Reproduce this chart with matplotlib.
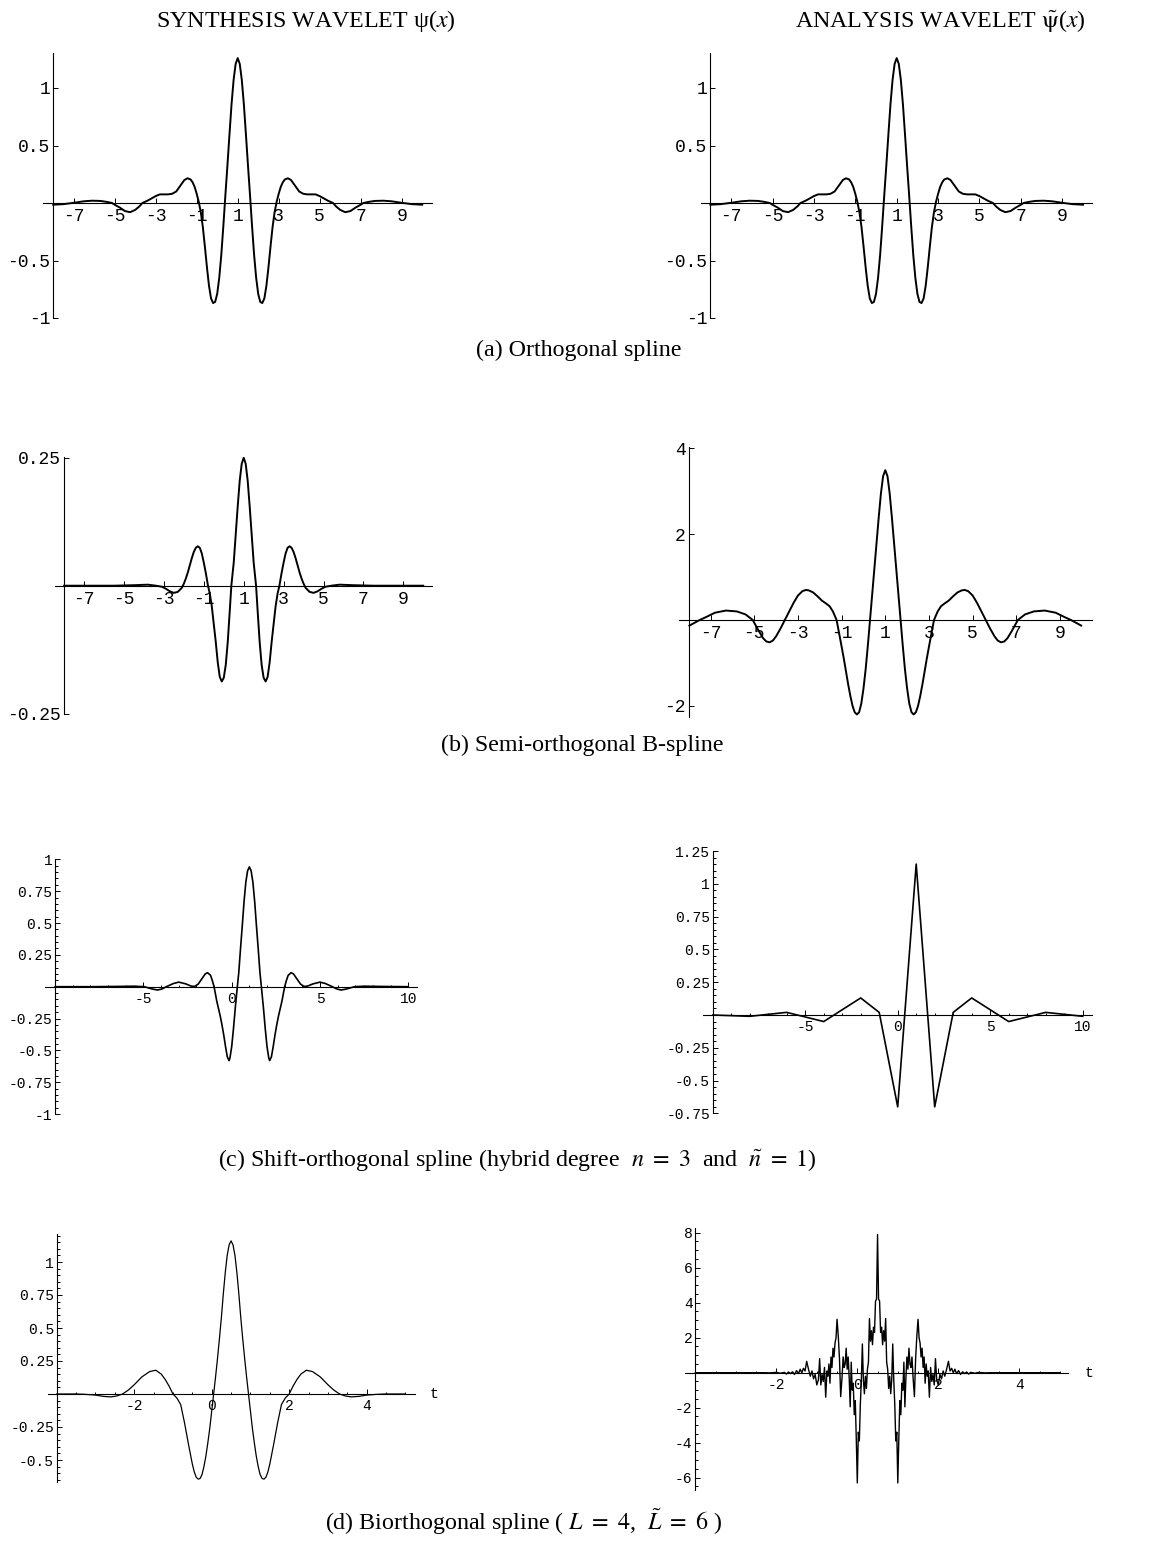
import numpy as np
import matplotlib
matplotlib.use("Agg")
import matplotlib.pyplot as plt

plt.rcParams['mathtext.fontset'] = 'stix'
SERIF = ['Liberation Serif', 'DejaVu Serif']
MONO = ['Liberation Mono', 'DejaVu Sans Mono']

W, H = 1156, 1550

# ---------------------------------------------------------------------------
# values; every wavelet is symmetric, so only one half
# is listed: offset from the centre of symmetry -> value
# ---------------------------------------------------------------------------

# (a) orthogonal spline (synthesis == analysis), centre x = 1
orth_d = [0, 0.1, 0.2, 0.3, 0.4, 0.5, 0.6, 0.7, 0.8, 0.9, 1.0, 1.1, 1.2, 1.3,
          1.4, 1.5, 1.6, 1.7, 1.8, 1.9, 2.0, 2.1, 2.2, 2.3, 2.45, 2.6, 2.8,
          3.0, 3.2, 3.4, 3.6, 3.8, 4.0, 4.2, 4.4, 4.65, 4.8, 5.0, 5.25, 5.5,
          5.75, 6.0, 6.13, 6.4, 6.7, 7.1, 7.5, 7.8, 8.07, 8.5, 9.0]
orth_v = [1.26, 1.21, 1.07, 0.86, 0.60, 0.33, 0.07, -0.20, -0.45, -0.65,
          -0.79, -0.86, -0.87, -0.83, -0.72, -0.56, -0.38, -0.21, -0.08, 0.01,
          0.08, 0.14, 0.18, 0.205, 0.215, 0.20, 0.15, 0.10, 0.08, 0.075,
          0.075, 0.075, 0.06, 0.04, 0.02, 0.0, -0.03, -0.06, -0.08, -0.07,
          -0.04, -0.015, 0.0, 0.01, 0.018, 0.02, 0.015, 0.007, 0.0, -0.01,
          -0.015]

# (b) semi-orthogonal B-spline, centre x = 1
bsyn_d = [0, 0.1, 0.2, 0.3, 0.4, 0.5, 0.62, 0.7, 0.8, 0.9, 1.0, 1.1, 1.2,
          1.3, 1.4, 1.5, 1.6, 1.7, 1.79, 1.9, 2.0, 2.1, 2.2, 2.3, 2.4, 2.5,
          2.6, 2.7, 2.8, 2.9, 3.0, 3.1, 3.3, 3.5, 3.7, 3.9, 4.1, 4.4, 4.8,
          5.5, 6.5, 9.0]
bsyn_v = [0.25, 0.238, 0.205, 0.155, 0.10, 0.045, 0.0, -0.05, -0.11, -0.155,
          -0.18, -0.187, -0.178, -0.15, -0.11, -0.075, -0.04, -0.015, 0.0,
          0.025, 0.045, 0.063, 0.074, 0.077, 0.074, 0.066, 0.054, 0.04,
          0.026, 0.014, 0.004, -0.004, -0.012, -0.014, -0.011, -0.006,
          -0.002, 0.0, 0.002, 0.001, 0.0, 0.0]

bana_d = [0, 0.1, 0.2, 0.3, 0.4, 0.5, 0.6, 0.7, 0.8, 0.9, 1.0, 1.1, 1.2,
          1.3, 1.4, 1.5, 1.6, 1.7, 1.8, 1.9, 2.0, 2.1, 2.23, 2.4, 2.55, 2.7,
          2.9, 3.1, 3.3, 3.5, 3.64, 3.8, 4.0, 4.2, 4.4, 4.6, 4.8, 5.0, 5.15,
          5.3, 5.45, 5.6, 5.8, 6.07, 6.4, 6.8, 7.3, 7.8, 8.2, 8.5, 8.97]
bana_v = [3.49, 3.35, 2.95, 2.4, 1.8, 1.2, 0.6, 0.0, -0.6, -1.15, -1.6,
          -1.95, -2.15, -2.2, -2.15, -2.0, -1.77, -1.5, -1.2, -0.9, -0.62,
          -0.35, 0.0, 0.2, 0.32, 0.38, 0.45, 0.55, 0.64, 0.69, 0.70, 0.67,
          0.57, 0.40, 0.20, 0.0, -0.2, -0.38, -0.48, -0.52, -0.5, -0.42,
          -0.25, 0.0, 0.13, 0.20, 0.22, 0.17, 0.07, 0.0, -0.13]

# (c) shift-orthogonal spline, centre x = 1; analysis wavelet is piecewise linear
shs_d = [0, 0.1, 0.2, 0.3, 0.4, 0.5, 0.6, 0.68, 0.8, 0.9, 1.0, 1.1, 1.15,
         1.25, 1.35, 1.45, 1.55, 1.65, 1.75, 1.85, 1.93, 2.0, 2.1, 2.2, 2.37,
         2.5, 2.7, 2.9, 3.1, 3.3, 3.6, 4.0, 4.3, 4.7, 4.95, 5.2, 5.5, 5.95,
         6.5, 7.5, 9.0, 11.0]
shs_v = [0.94, 0.91, 0.82, 0.67, 0.48, 0.30, 0.11, 0.0, -0.17, -0.33, -0.47,
         -0.56, -0.58, -0.55, -0.47, -0.38, -0.30, -0.23, -0.17, -0.11,
         -0.05, 0.0, 0.05, 0.09, 0.11, 0.10, 0.06, 0.02, 0.002, 0.005, 0.022,
         0.036, 0.025, 0.0, -0.018, -0.026, -0.018, 0.0, 0.004, 0.002, 0.0,
         0.0]

sha_x = list(range(-10, 11))
sha_v = [0.0, -0.005, -0.01, 0.005, 0.02, -0.015, -0.05, 0.04, 0.13, 0.02,
         -0.70, 1.15, -0.70, 0.02, 0.13, 0.04, -0.05, -0.015, 0.02, 0.005,
         -0.01]

# (d) biorthogonal spline, centre t = 0.5
bis_d = [0, 0.05, 0.1, 0.15, 0.2, 0.25, 0.3, 0.35, 0.4, 0.45, 0.5, 0.55,
         0.6, 0.65, 0.7, 0.75, 0.8, 0.85, 0.9, 0.95, 1.0, 1.1, 1.2, 1.3, 1.4,
         1.5, 1.6, 1.7, 1.8, 1.94, 2.1, 2.3, 2.5, 2.65, 2.8, 2.95, 3.1, 3.3,
         3.5, 3.8, 4.0, 4.5]
bis_v = [1.16, 1.13, 1.05, 0.92, 0.76, 0.58, 0.42, 0.27, 0.13, 0.0, -0.13,
         -0.26, -0.37, -0.47, -0.55, -0.61, -0.64, -0.645, -0.63, -0.59,
         -0.53, -0.38, -0.22, -0.08, -0.03, 0.0, 0.06, 0.11, 0.15, 0.18,
         0.17, 0.13, 0.07, 0.03, 0.0, -0.015, -0.022, -0.018, -0.008, -0.002,
         0.0, 0.0]

bia_d = [0.0, 0.025, 0.05, 0.075, 0.1, 0.125, 0.15, 0.175, 0.2, 0.225, 0.25,
         0.275, 0.3, 0.325, 0.35, 0.375, 0.4, 0.425, 0.45, 0.475, 0.5, 0.525,
         0.55, 0.575, 0.6, 0.625, 0.65, 0.675, 0.7, 0.725, 0.75, 0.775, 0.8,
         0.825, 0.85, 0.875, 0.91, 0.94, 0.97, 1.0, 1.025, 1.05, 1.075, 1.1,
         1.125, 1.15, 1.175, 1.2, 1.225, 1.25, 1.28, 1.31, 1.34, 1.37, 1.4,
         1.43, 1.46, 1.5, 1.54, 1.58, 1.62, 1.66, 1.7, 1.75, 1.79, 1.83,
         1.87, 1.91, 1.95, 2.0, 2.05, 2.1, 2.15, 2.2, 2.25, 2.3, 2.4, 2.5,
         2.65, 2.8, 3.5, 4.5]
bia_v = [7.9, 4.2, 4.1, 2.3, 2.6, 1.6, 2.4, 1.8, 3.1, 0.6, 0.2, -0.9, -0.2,
         -1.2, -0.4, 1.64, -0.4, -1.8, -3.9, -3.4, -6.3, -3.8, -1.6, -2.4,
         -0.6, -1.0, 0.6, -1.95, -0.3, 0.9, 0.2, 1.4, 0.5, 0.3, 0.9, -0.2,
         -1.37, 0.8, 2.1, 3.05, 2.0, 1.7, 0.9, 1.4, 0.3, 0.9, -0.6, 0.5,
         -0.2, 0.1, -1.4, 0.3, -0.5, -0.1, -0.7, 0.8, -0.4, -0.7, -0.1,
         -0.35, 0.1, -0.2, 0.15, 0.65, 0.1, 0.25, 0.0, 0.2, -0.05, 0.12,
         -0.1, 0.05, -0.05, 0.04, -0.08, 0.02, -0.03, 0.02, -0.01, 0.0, 0.0,
         0.0]


def mirror(centre, d, v, lo, hi):
    d = np.asarray(d, float)
    v = np.asarray(v, float)
    x = np.concatenate([centre - d[:0:-1], centre + d])
    y = np.concatenate([v[:0:-1], v])
    keep = (x >= lo - 1e-9) & (x <= hi + 1e-9)
    return x[keep], y[keep]


fig = plt.figure(figsize=(W / 100, H / 100), dpi=100)


def panel(xlim, ylim, xref, yref, yaxis_at, fs):
    (xa, pa), (xb, pb) = xref
    sx = (pb - pa) / (xb - xa)
    left = pa + (xlim[0] - xa) * sx
    right = pa + (xlim[1] - xa) * sx
    (ya, qa), (yb, qb) = yref
    sy = (qb - qa) / (yb - ya)
    top = qa + (ylim[1] - ya) * sy
    bottom = qa + (ylim[0] - ya) * sy
    ax = fig.add_axes([left / W, 1 - bottom / H, (right - left) / W,
                       (bottom - top) / H])
    ax.set_xlim(xlim)
    ax.set_ylim(ylim)
    ax.patch.set_visible(False)
    for s in ('top', 'right'):
        ax.spines[s].set_visible(False)
    ax.spines['left'].set_position(('data', yaxis_at))
    ax.spines['bottom'].set_position(('data', 0))
    for s in ('left', 'bottom'):
        ax.spines[s].set_linewidth(0.8)
    ax.tick_params(which='both', direction='in', width=0.7, labelsize=fs)
    ax.tick_params(axis='x', pad=3.5)
    ax.tick_params(axis='y', pad=2)
    ax.tick_params(which='major', length=3.5)
    ax.tick_params(which='minor', length=1.8)
    return ax


def ticks(ax, xt, yt, fs, xminor=None, yminor=None):
    ax.set_xticks(xt, [f'{v:g}' for v in xt], family=MONO, fontsize=fs)
    ax.set_yticks(yt, [f'{v:g}' for v in yt], family=MONO, fontsize=fs)
    if xminor is not None:
        ax.set_xticks(xminor, minor=True)
    if yminor is not None:
        ax.set_yticks(yminor, minor=True)


odd = [-7, -5, -3, -1, 1, 3, 5, 7, 9]

# ---- (a) ----
x, y = mirror(1, orth_d, orth_v, -8, 10)
ax = panel((-8.5, 10.47), (-1.0, 1.30), ((1, 237.7), (9, 401.7)),
           ((0, 203), (1, 88)), -8, 13)
ax.plot(x, y, color='k', lw=1.4)
ticks(ax, odd, [-1, -0.5, 0.5, 1], 13)

ax = panel((-8.45, 10.43), (-1.0, 1.30), ((1, 896.7), (9, 1062.3)),
           ((0, 203), (1, 88)), -8, 13)
ax.plot(x, y, color='k', lw=1.4)
ticks(ax, odd, [-1, -0.5, 0.5, 1], 13)

# ---- (b) ----
x, y = mirror(1, bsyn_d, bsyn_v, -8, 10)
ax = panel((-8.46, 10.45), (-0.25, 0.252), ((1, 243.7), (9, 403.3)),
           ((0, 585.7), (0.25, 457.7)), -8, 13)
ax.plot(x, y, color='k', lw=1.4)
ticks(ax, odd, [-0.25, 0.25], 13)

x, y = mirror(1, bana_d, bana_v, -8, 10)
ax = panel((-8.43, 10.47), (-2.25, 4.03), ((1, 885.3), (9, 1060)),
           ((0, 620), (4, 448.3)), -8, 13)
ax.plot(x, y, color='k', lw=1.4)
ticks(ax, odd, [-2, 2, 4], 13)

# ---- (c) ----
ytc = [-1, -0.75, -0.5, -0.25, 0.25, 0.5, 0.75, 1]
x, y = mirror(1, shs_d, shs_v, -10, 10)
ax = panel((-10.57, 10.47), (-1.0, 1.0), ((0, 231.7), (10, 408.3)),
           ((0, 986.7), (1, 859.3)), -10, 10.5)
ax.plot(x, y, color='k', lw=1.2)
ticks(ax, [-5, 0, 5, 10], ytc, 10.5, np.arange(-10, 11, 1),
      np.arange(-1, 1.001, 0.05))

ax = panel((-10.5, 10.49), (-0.75, 1.25), ((0, 897.7), (10, 1082.7)),
           ((0, 1015), (1.25, 851)), -10, 10.5)
ax.plot(sha_x, sha_v, color='k', lw=1.2)
ticks(ax, [-5, 0, 5, 10], [-0.75, -0.5, -0.25, 0.25, 0.5, 0.75, 1, 1.25],
      10.5, np.arange(-10, 11, 1), np.arange(-0.75, 1.251, 0.05))

# ---- (d) ----
x, y = mirror(0.5, bis_d, bis_v, -4, 5)
ax = panel((-4.22, 5.25), (-0.67, 1.21), ((0, 211.7), (4, 366.7)),
           ((0, 1394), (1, 1262)), -4, 10.5)
ax.plot(x, y, color='k', lw=0.9)
ticks(ax, [-2, 0, 2, 4], [-0.5, -0.25, 0.25, 0.5, 0.75, 1], 10.5,
      np.arange(-4, 5.01, 0.5), np.arange(-0.65, 1.201, 0.05))
ax.text(5.63, 0, 't', family=MONO, fontsize=10.5, ha='left', va='center',
        clip_on=False)

x, y = mirror(0.5, bia_d, bia_v, -4, 5)
ax = panel((-4.25, 5.21), (-6.7, 8.26), ((0, 857.3), (4, 1019.3)),
           ((0, 1372.7), (8, 1232.7)), -4, 10.5)
ax.plot(x, y, color='k', lw=1.0)
ticks(ax, [-2, 0, 2, 4], [-6, -4, -2, 2, 4, 6, 8], 10.5,
      np.arange(-4, 5.01, 0.5), np.arange(-6.5, 8.01, 0.5))
ax.text(5.62, 0, 't', family=MONO, fontsize=10.5, ha='left', va='center',
        clip_on=False)


# ---- titles and captions ----
def label(px, py, s):
    fig.text(px / W, 1 - py / H, s, family=SERIF, fontsize=17.3,
             ha='center', va='center')


label(306, 21, r'SYNTHESIS WAVELET ψ($x$)')
label(940, 21, r'ANALYSIS WAVELET $\tilde{\mathrm{\psi}}$($x$)')
label(579, 350, '(a) Orthogonal spline')
label(582, 745, '(b) Semi-orthogonal B-spline')
label(517, 1160, r'(c) Shift-orthogonal spline (hybrid degree  '
      r'$n\ =\ 3$  and  $\tilde{n}\ =\ 1$)')
label(524, 1522, r'(d) Biorthogonal spline ( $L\ =\ 4$,  '
      r'$\tilde{L}\ =\ 6$ )')

fig.savefig('out.png', dpi=100)
